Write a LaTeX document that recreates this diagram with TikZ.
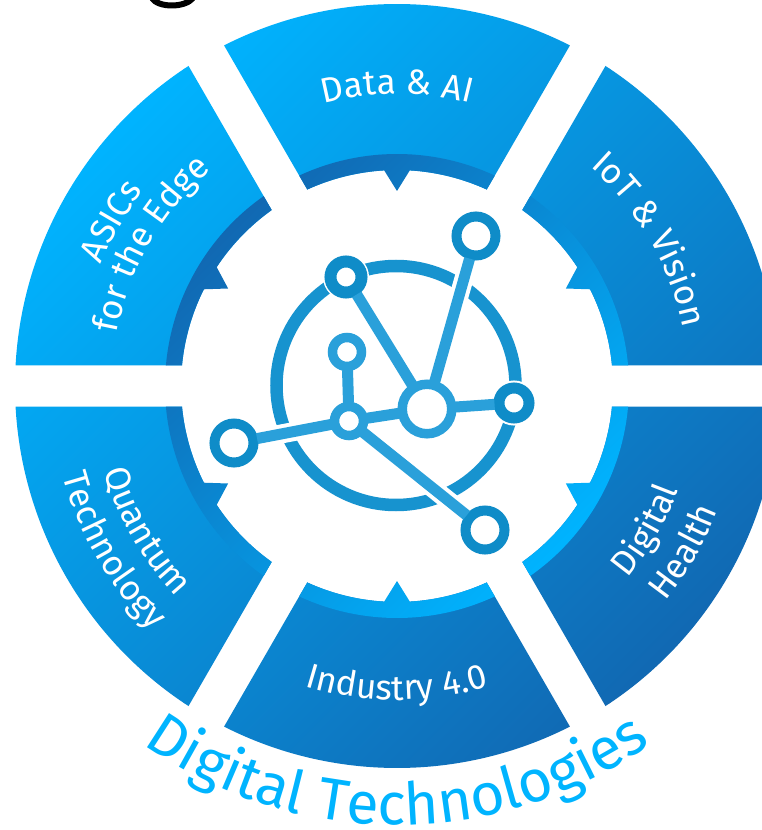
\documentclass[tikz,border=0pt]{standalone}
\usepackage{fontspec}
\usepackage{tikz}
\usetikzlibrary{positioning, shapes.geometric, decorations.text}
\newfontfamily\firafamily{Fira Sans}
\newcommand{\wheelfont}{\firafamily\fontsize{35}{35}\selectfont}
\newcommand{\capfont}{\firafamily\fontsize{59}{59}\selectfont}
\definecolor{brightblue}{HTML}{00B4FF}
\definecolor{deepblue}{HTML}{1168B2}
\definecolor{ringblue}{HTML}{1793CF}
\definecolor{linkblue}{HTML}{2AA0DA}
\definecolor{endblue}{HTML}{0F8CC8}

\begin{document}
\begin{tikzpicture}[
    x=1pt, y=1pt,
    wheelshade/.style = {top color=brightblue, bottom color=deepblue, shading angle=45},
    bandshade/.style = {top color=deepblue, bottom color=brightblue, shading angle=45},
    every node/.style = {circle, fill=white, inner sep=0pt},
    halonode/.style = {preaction={draw=white, line width=#1}},
    hubnode/.style = {draw=linkblue, line width=9.5pt, minimum size=49.5pt, halonode=13pt},
    bignode/.style = {draw=endblue, line width=10pt, minimum size=39pt, halonode=14pt},
    smallnode/.style = {draw=endblue, line width=11pt, minimum size=30pt, halonode=15pt},
    innernode/.style = {draw=linkblue, line width=9.5pt, minimum size=29pt, halonode=13pt},
    link/.style = {draw=linkblue, line width=11pt, shorten >=-1pt, shorten <=-1pt},
    halo/.style = {draw=white, line width=19pt},
    arclabel/.style = {decoration={text along path, text align=center, text color=white, text={|\wheelfont|#1}}, decorate},
    caplabel/.style = {decoration={text along path, text align=center, text color=brightblue, text={|\capfont|#1}}, decorate}
]
\useasboundingbox (-397,-444) rectangle (365,386);

% Wheel segments
\shade[wheelshade] \foreach \m in {90,30,-30,-90,-150,150} {
    (\m-26.92:382) arc[start angle=\m-26.92, end angle=\m+26.92, radius=382]
    -- (\m+24.55:216) arc[start angle=\m+24.55, end angle=\m-24.55, radius=216] -- cycle
};

% Inner bands with their pointers
\shade[bandshade] \foreach \m in {90,30,-30,-90,-150,150} {
    (\m-24.93:232) arc[start angle=\m-24.93, end angle=\m+24.93, radius=232]
    -- (\m+24.55:216) arc[start angle=\m+24.55, end angle=\m+3.4, radius=216]
    -- (\m:195) -- (\m-3.4:216)
    arc[start angle=\m-3.4, end angle=\m-24.55, radius=216] -- cycle
};

% Network
\draw[ringblue, line width=12.5pt] (-1,0.5) circle[radius=119.5];

\node[hubnode] (hub) at (30,-23) {};
\node[innernode] (joint) at (-48,-35) {};
\node[smallnode, line width=12pt, minimum size=31pt] (topleft) at (-51,109) {};
\node[bignode] (topright) at (79,150) {};
\node[innernode] (upper) at (-50,34) {};
\node[smallnode] (east) at (117,-17) {};
\node[bignode] (west) at (-163,-57) {};
\node[bignode] (southeast) at (88,-144) {};

\foreach \a/\b in {hub/topleft, hub/topright, hub/east, hub/joint, joint/upper, joint/west, joint/southeast} {
    \draw[halo] (\a) -- (\b);
}
\foreach \a/\b in {hub/topleft, hub/topright, hub/east, hub/joint, joint/upper, joint/west, joint/southeast} {
    \draw[link] (\a) -- (\b);
}

% Tail of the cut-off title letter
\draw[black, line width=6pt] (-245,388) .. controls (-239,378) and (-212,378) .. (-204,388);

% Segment labels
\path[arclabel={Data {\&} AI}] (140:292) arc[start angle=140, end angle=40, radius=292];
\path[arclabel={IoT {\&} Vision}] (80:292) arc[start angle=80, end angle=-20, radius=292];
\path[arclabel={ASICs}] (200:320) arc[start angle=200, end angle=100, radius=320];
\path[arclabel={for the Edge}] (200:285) arc[start angle=200, end angle=100, radius=285];
\path[arclabel={Quantum}] (160:305) arc[start angle=160, end angle=260, radius=305];
\path[arclabel={Technology}] (160:346) arc[start angle=160, end angle=260, radius=346];
\path[arclabel={Industry 4.0}] (220:314) arc[start angle=220, end angle=320, radius=314];
\path[arclabel={Digital}] (-80:300) arc[start angle=-80, end angle=20, radius=300];
\path[arclabel={Health}] (-80:344) arc[start angle=-80, end angle=20, radius=344];
\path[caplabel={Digital Technologies}] (200:439) arc[start angle=200, end angle=340, radius=439];

\end{tikzpicture}
\end{document}
